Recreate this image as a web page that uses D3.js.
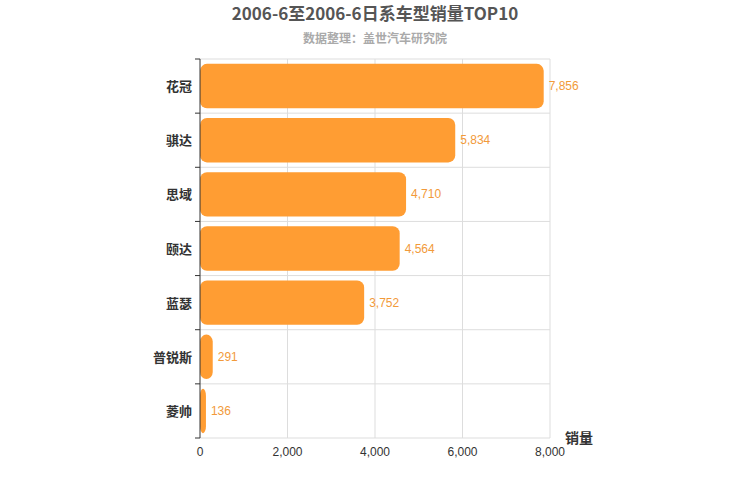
<!DOCTYPE html>
<html><head><meta charset="utf-8">
<script src="https://cdn.jsdelivr.net/npm/d3@7"></script>
<style>body{margin:0;background:#fff;font-family:"Noto Sans CJK SC",sans-serif;}</style>
</head><body><svg id="c" width="750" height="500"></svg>
<script>
const categories=["花冠","骐达","思域","颐达","蓝瑟","普锐斯","菱帅"];
const values=[7856,5834,4710,4564,3752,291,136];
const xTicks=[0,2000,4000,6000,8000];
const svg=d3.select("#c");
const L=200,R=550,T=59,B=438;
const x=d3.scaleLinear().domain([0,8000]).range([L,R]);
const y=d3.scaleBand().domain(categories).range([T,B]).paddingInner(0.18).paddingOuter(0.09);
const step=(B-T)/categories.length;
// grid
svg.selectAll(".vg").data(xTicks.slice(1)).enter().append("line")
 .attr("x1",d=>x(d)).attr("x2",d=>x(d)).attr("y1",T).attr("y2",B).attr("stroke","#ddd");
svg.selectAll(".hg").data(d3.range(categories.length+1)).enter().append("line")
 .attr("x1",L).attr("x2",R).attr("y1",d=>T+d*step).attr("y2",d=>T+d*step).attr("stroke","#ddd");
// bars
svg.selectAll(".bar").data(values).enter().append("rect")
 .attr("x",L).attr("y",(d,i)=>y(categories[i])).attr("width",d=>x(d)-L).attr("height",y.bandwidth())
 .attr("rx",7).attr("fill","#ff9d33");
svg.selectAll(".lbl").data(values).enter().append("text")
 .attr("x",d=>x(d)+5).attr("y",(d,i)=>y(categories[i])+y.bandwidth()/2+4)
 .attr("font-size",12).attr("fill","#f29a3a").attr("font-family","Arial,Liberation Sans,sans-serif")
 .text(d=>d3.format(",")(d));
// axes
svg.append("line").attr("x1",L).attr("x2",L).attr("y1",T).attr("y2",B).attr("stroke","#333");
svg.selectAll(".yt").data(d3.range(categories.length+1)).enter().append("line")
 .attr("x1",L-5).attr("x2",L).attr("y1",d=>T+d*step).attr("y2",d=>T+d*step).attr("stroke","#333");
svg.selectAll(".yl").data(categories).enter().append("text")
 .attr("x",L-8).attr("y",d=>y(d)+y.bandwidth()/2+5).attr("text-anchor","end")
 .attr("font-size",13).attr("font-weight","bold").attr("fill","#333").text(d=>d);
svg.selectAll(".xl").data(xTicks).enter().append("text")
 .attr("x",d=>x(d)).attr("y",B+18).attr("text-anchor","middle").attr("font-size",12)
 .attr("fill","#333").attr("font-family","Arial,Liberation Sans,sans-serif").text(d=>d3.format(",")(d));
svg.append("text").attr("x",565).attr("y",443).attr("font-size",14).attr("font-weight","bold").attr("fill","#333").text("销量");
svg.append("text").attr("x",375).attr("y",20).attr("text-anchor","middle").attr("font-size",17).attr("font-weight","bold").attr("fill","#555").text("2006-6至2006-6日系车型销量TOP10");
svg.append("text").attr("x",375).attr("y",43).attr("text-anchor","middle").attr("font-size",12).attr("font-weight","bold").attr("fill","#aaa").text("数据整理：盖世汽车研究院");
</script></body></html>
